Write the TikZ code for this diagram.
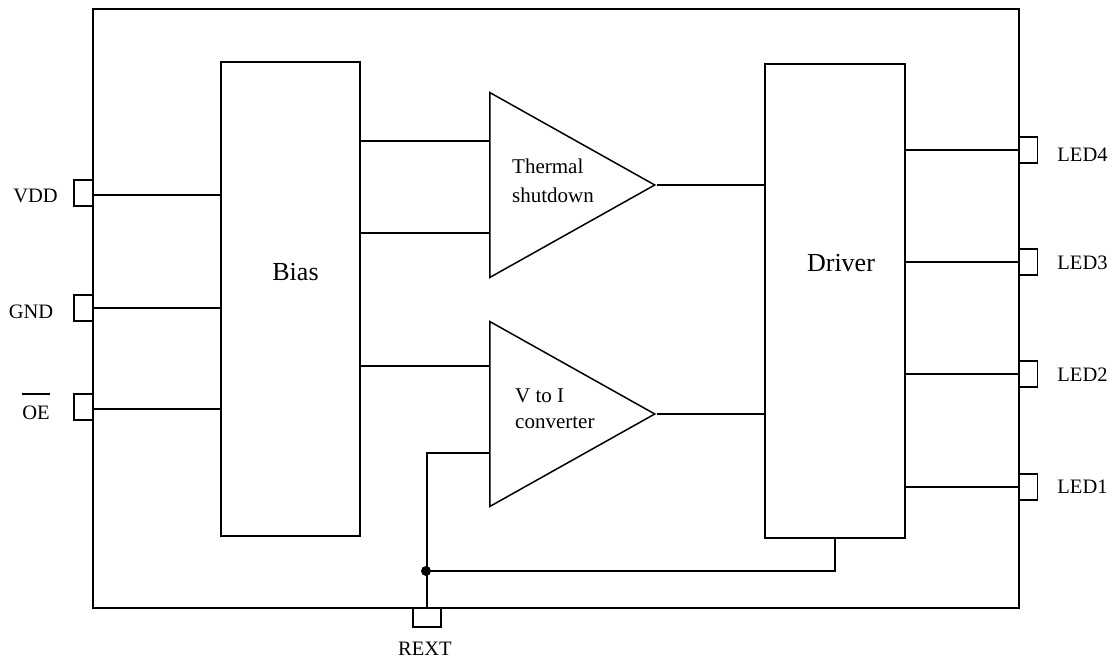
\documentclass[tikz,border=0pt]{standalone}
\usepackage{fontspec}
\setmainfont{Liberation Serif}
\usetikzlibrary{positioning,shapes.geometric}
\tikzset{
    wire/.style={line width=1.5pt},
    blockbox/.style={draw, line width=1.5pt, minimum width=139pt, minimum height=474pt, inner sep=0pt},
    blocktext/.style={inner sep=0pt, font=\fontsize{26}{30}\selectfont},
    pinbox/.style={draw, line width=1.5pt, minimum width=19pt, minimum height=26pt, inner sep=0pt},
    ampl/.style={draw, line width=1.5pt, isosceles triangle, isosceles triangle stretches, shape border rotate=0, minimum height=165pt, minimum width=185pt, inner sep=0pt, anchor=lower side},
    pinlabel/.style={inner sep=0pt, font=\fontsize{20.5}{24}\selectfont},
    ampltext/.style={inner sep=0pt, align=left, anchor=west, font=\fontsize{21}{29}\selectfont}
}
\begin{document}
\begin{tikzpicture}[x=1pt,y=-1pt]
    \useasboundingbox (0,0) rectangle (1112,661);

    \node[draw, line width=1.5pt, minimum width=926pt, minimum height=599pt, inner sep=0pt] (chip) at (556,308.5) {};

    \node[blockbox] (bias) at (290.5,299) {};
    \node[blockbox, minimum width=140pt] (driver) at (835,301) {};
    \node[blocktext] (biastext) at (295.5,272) {Bias};
    \node[blocktext] (drivertext) at (841,263) {Driver};

    \node[ampl] (thermal) at (489,185) {};
    \node[ampl] (vtoi) at (489,414) {};
    \node[ampltext] (thermaltext) at (512,181) {Thermal\\shutdown};
    \node[ampltext, font=\fontsize{21}{26}\selectfont] (vtoitext) at (515,409) {V to I\\converter};

    % pins left
    \node[pinbox] (pinvdd) at (83.5,193) {};
    \node[pinbox] (pingnd) at (83.5,308) {};
    \node[pinbox] (pinoe) at (83.5,407) {};
    \node[pinlabel] (vdd) at (35.5,196) {VDD};
    \node[pinlabel] (gnd) at (31,311.5) {GND};
    \node[pinlabel] (oe) at (36,413) {OE};
    \draw[line width=1.5pt] (oe.north west |- 0,394) -- (oe.north east |- 0,394);

    % pins right
    \node[pinbox] (pinledd) at (1028,150) {};
    \node[pinbox] (pinledc) at (1028,262) {};
    \node[pinbox] (pinledb) at (1028,374) {};
    \node[pinbox] (pinleda) at (1028,487) {};
    \node[pinlabel] (ledd) at (1082.5,154.5) {LED4};
    \node[pinlabel] (ledc) at (1082.5,263) {LED3};
    \node[pinlabel] (ledb) at (1082.5,375) {LED2};
    \node[pinlabel] (leda) at (1082.5,487) {LED1};

    % pin bottom
    \node[pinbox, minimum width=28pt, minimum height=19pt] (pinrext) at (427,617.5) {};
    \node[pinlabel] (rext) at (425,649) {REXT};

    \coordinate (vddin) at (93,195);
    \coordinate (gndin) at (93,308);
    \coordinate (oein) at (93,409);
    \coordinate (biasa) at (360,141);
    \coordinate (biasb) at (360,233);
    \coordinate (biasc) at (360,366);
    \coordinate (rextin) at (427,453);
    \coordinate (drvdown) at (835,538);
    \node[circle, fill=black, inner sep=0pt, minimum size=10pt] (dot) at (426,571) {};

    \draw[wire] (vddin) -- (vddin -| bias.west);
    \draw[wire] (gndin) -- (gndin -| bias.west);
    \draw[wire] (oein) -- (oein -| bias.west);
    \draw[wire] (biasa) -- (biasa -| thermal.lower side);
    \draw[wire] (biasb) -- (biasb -| thermal.lower side);
    \draw[wire] (biasc) -- (biasc -| vtoi.lower side);
    \draw[wire] (thermal.apex) -- (thermal.apex -| driver.west);
    \draw[wire] (vtoi.apex) -- (vtoi.apex -| driver.west);
    \draw[wire] (pinledd.west -| driver.east) -- (pinledd.west);
    \draw[wire] (pinledc.west -| driver.east) -- (pinledc.west);
    \draw[wire] (pinledb.west -| driver.east) -- (pinledb.west);
    \draw[wire] (pinleda.west -| driver.east) -- (pinleda.west);
    \draw[wire] (pinrext.north) -- (rextin) -- (rextin -| vtoi.lower side);
    \draw[wire] (dot) -- (dot -| drvdown) -- (drvdown);
\end{tikzpicture}
\end{document}
